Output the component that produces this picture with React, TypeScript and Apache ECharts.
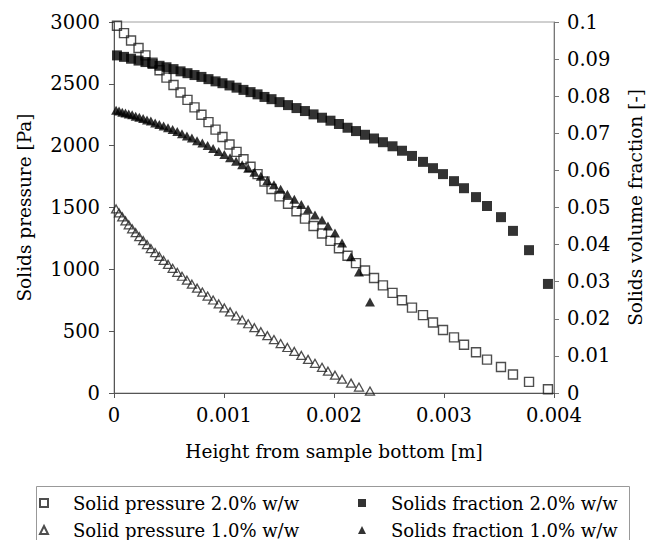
import React, { useEffect, useRef } from "react";
import * as echarts from "echarts";

// Height from sample bottom [m] for the 2.0 % w/w profile (shared by pressure and fraction)
const height20 = [
  0.000027, 0.000091, 0.000155, 0.000223, 0.000286, 0.00035, 0.000414, 0.000477, 0.000541, 0.000605,
  0.000668, 0.000732, 0.000795, 0.000859, 0.000923, 0.000986, 0.00105, 0.001114, 0.001177, 0.001241,
  0.001305, 0.001368, 0.001432, 0.001505, 0.001582, 0.001659, 0.001736, 0.001814, 0.001891, 0.001968,
  0.002045, 0.002123, 0.0022, 0.002282, 0.002364, 0.002445, 0.002532, 0.002618, 0.002709, 0.002809,
  0.0029, 0.002991, 0.003091, 0.003182, 0.003291, 0.003391, 0.003518, 0.003627, 0.003773, 0.003945,
];

// Solids pressure [Pa], 2.0 % w/w
const pressure20 = [
  2970, 2910, 2850, 2790, 2730, 2670, 2610, 2550, 2490, 2430,
  2370, 2310, 2250, 2190, 2130, 2070, 2010, 1950, 1890, 1830,
  1770, 1710, 1650, 1590, 1530, 1470, 1410, 1350, 1290, 1230,
  1170, 1110, 1050, 990, 930, 870, 810, 750, 690, 630,
  570, 510, 450, 390, 330, 270, 210, 150, 90, 30,
];

// Solids volume fraction [-], 2.0 % w/w
const fraction20 = [
  0.091, 0.0906, 0.0901, 0.0896, 0.0892, 0.0887, 0.0882, 0.0878, 0.0873, 0.0867,
  0.0862, 0.0857, 0.0852, 0.0846, 0.084, 0.0835, 0.0829, 0.0823, 0.0817, 0.0811,
  0.0805, 0.0798, 0.0792, 0.0784, 0.0776, 0.0768, 0.076, 0.0751, 0.0742, 0.0734,
  0.0725, 0.0715, 0.0706, 0.0696, 0.0686, 0.0676, 0.0665, 0.0653, 0.0639, 0.0623,
  0.0606, 0.059, 0.0571, 0.0552, 0.0528, 0.0504, 0.0474, 0.0437, 0.0385, 0.0294,
];

// Height from sample bottom [m] for the 1.0 % w/w profile
const height10 = [
  0.000019, 0.000046, 0.000075, 0.000104, 0.000134, 0.000165, 0.000197, 0.00023, 0.000265, 0.0003,
  0.000335, 0.000374, 0.000412, 0.000451, 0.000491, 0.000533, 0.000575, 0.000618, 0.000663, 0.000708,
  0.000755, 0.000803, 0.000851, 0.000901, 0.000952, 0.001003, 0.001055, 0.00111, 0.001165, 0.00122,
  0.001276, 0.001335, 0.001394, 0.001454, 0.001515, 0.001576, 0.001639, 0.001703, 0.001764, 0.001827,
  0.001891, 0.001945, 0.002009, 0.002073, 0.002155, 0.002227, 0.002327,
];

// Solids pressure [Pa], 1.0 % w/w
const pressure10 = [
  1488, 1456, 1424, 1392, 1360, 1328, 1296, 1264, 1232, 1200,
  1168, 1136, 1104, 1072, 1040, 1008, 976, 944, 912, 880,
  848, 816, 784, 752, 720, 688, 656, 624, 592, 560,
  528, 496, 464, 432, 400, 368, 336, 304, 272, 240,
  208, 176, 144, 112, 80, 48, 16,
];

// Solids volume fraction [-], 1.0 % w/w
const fraction10 = [
  0.0762, 0.076, 0.0757, 0.0755, 0.0752, 0.075, 0.0746, 0.0743, 0.074, 0.0736,
  0.0733, 0.0728, 0.0724, 0.072, 0.0715, 0.071, 0.0705, 0.0699, 0.0693, 0.0687,
  0.068, 0.0674, 0.0667, 0.0659, 0.0651, 0.0643, 0.0634, 0.0625, 0.0615, 0.0606,
  0.0595, 0.0584, 0.0573, 0.0561, 0.0549, 0.0536, 0.0522, 0.0508, 0.0495, 0.048,
  0.0466, 0.045, 0.0431, 0.0404, 0.0367, 0.0326, 0.0245,
];

const xTicks = ["0", "0.001", "0.002", "0.003", "0.004"];

const seriesNames = [
  "Solid pressure 2.0% w/w",
  "Solid pressure 1.0% w/w",
  "Solids fraction 2.0% w/w",
  "Solids fraction 1.0% w/w",
];

const FONT = "'DejaVu Serif', 'Liberation Serif', serif";

const pairs = (xs: number[], ys: number[]) => xs.map((x, i) => [x, ys[i]]);

export default function App() {
  const ref = useRef<HTMLDivElement>(null);

  useEffect(() => {
    if (!ref.current) return;
    const chart = echarts.init(ref.current, null, { renderer: "svg" });

    const tickLabel = { color: "#000", fontFamily: FONT, fontSize: 19.5 };
    const axisName = { color: "#000", fontFamily: FONT, fontSize: 18.5 };
    const legendText = {
      color: "#000",
      fontFamily: FONT,
      fontSize: 18,
      padding: [0, 0, 0, 20],
    };
    const legendBase = {
      orient: "vertical",
      top: 494,
      itemWidth: 8,
      itemHeight: 8,
      itemGap: 9,
      padding: 0,
      textStyle: legendText,
      selectedMode: false,
    };

    chart.setOption({
      animation: false,
      backgroundColor: "#fff",
      textStyle: { fontFamily: FONT },
      grid: {
        left: 114,
        right: 100,
        top: 22,
        bottom: 147,
        show: true,
        borderColor: "#a0a0a0",
        borderWidth: 1,
        backgroundColor: "transparent",
      },
      xAxis: {
        type: "value",
        min: 0,
        max: 0.004,
        interval: 0.001,
        name: "Height from sample bottom [m]",
        nameLocation: "middle",
        nameGap: 49,
        nameTextStyle: axisName,
        axisLine: { show: true, lineStyle: { color: "#555", width: 1 } },
        axisTick: { show: true, length: 5, lineStyle: { color: "#555" } },
        axisLabel: {
          ...tickLabel,
          margin: 12,
          formatter: (v: number) => xTicks[Math.round(v / 0.001)] ?? "",
        },
        splitLine: { show: false },
      },
      yAxis: [
        {
          type: "value",
          position: "left",
          min: 0,
          max: 3000,
          interval: 500,
          name: "Solids pressure [Pa]",
          nameLocation: "middle",
          nameRotate: 90,
          nameGap: 80,
          nameTextStyle: axisName,
          axisLine: { show: true, lineStyle: { color: "#555", width: 1 } },
          axisTick: { show: true, length: 5, lineStyle: { color: "#555" } },
          axisLabel: { ...tickLabel, margin: 14, formatter: (v: number) => String(v) },
          splitLine: { show: false },
        },
        {
          type: "value",
          position: "right",
          min: 0,
          max: 0.1,
          interval: 0.01,
          name: "Solids volume fraction [-]",
          nameLocation: "middle",
          nameRotate: 90,
          nameGap: 72,
          nameTextStyle: axisName,
          axisLine: { show: true, lineStyle: { color: "#777", width: 1 } },
          axisTick: { show: true, length: 5, lineStyle: { color: "#777" } },
          axisLabel: {
            ...tickLabel,
            margin: 13,
            formatter: (v: number) => String(+v.toFixed(2)),
          },
          splitLine: { show: false },
        },
      ],
      legend: [
        { ...legendBase, data: [seriesNames[0], seriesNames[1]], left: 39 },
        { ...legendBase, data: [seriesNames[2], seriesNames[3]], left: 358 },
      ],
      graphic: [
        {
          type: "rect",
          shape: { x: 36.5, y: 486.5, width: 593, height: 80 },
          style: { fill: "none", stroke: "#999", lineWidth: 1 },
          silent: true,
        },
      ],
      series: [
        {
          name: seriesNames[0],
          type: "scatter",
          yAxisIndex: 0,
          symbol: "rect",
          symbolSize: 9,
          itemStyle: { color: "rgba(255,255,255,0)", borderColor: "#222", borderWidth: 1.4 },
          data: pairs(height20, pressure20),
          z: 2,
        },
        {
          name: seriesNames[1],
          type: "scatter",
          yAxisIndex: 0,
          symbol: "triangle",
          symbolSize: [9, 8],
          itemStyle: { color: "rgba(255,255,255,0)", borderColor: "#222", borderWidth: 1.3 },
          data: pairs(height10, pressure10),
          z: 2,
        },
        {
          name: seriesNames[2],
          type: "scatter",
          yAxisIndex: 1,
          symbol: "rect",
          symbolSize: 10,
          itemStyle: { color: "#000" },
          data: pairs(height20, fraction20),
          z: 3,
        },
        {
          name: seriesNames[3],
          type: "scatter",
          yAxisIndex: 1,
          symbol: "triangle",
          symbolSize: [10, 9],
          itemStyle: { color: "#000" },
          data: pairs(height10, fraction10),
          z: 3,
        },
      ],
    });

    return () => chart.dispose();
  }, []);

  return (
    <div
      ref={ref}
      style={{ position: "absolute", left: 0, top: 0, width: 654, height: 540, background: "#fff" }}
    />
  );
}
